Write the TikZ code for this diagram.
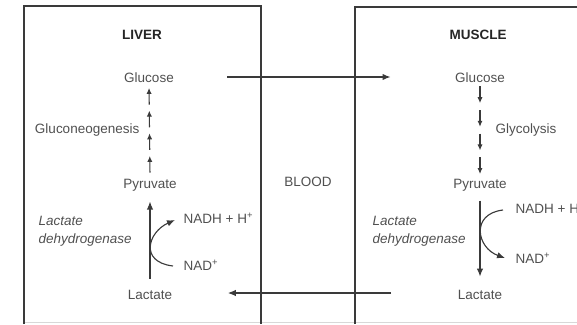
\documentclass[tikz,border=0pt]{standalone}
\usepackage{fontspec}
\setmainfont{Liberation Sans}
\usepackage{tikz}
\usetikzlibrary{arrows.meta,positioning,calc}
\definecolor{ink}{HTML}{505050}
\definecolor{frame}{HTML}{3A3A3A}
\definecolor{rulegray}{HTML}{D8D8D8}

\begin{document}
\begin{tikzpicture}[x=0.025cm,y=0.025cm,
  lbl/.style={text=ink,inner sep=1pt,font=\fontsize{9.6}{12.8}\selectfont},
  hdr/.style={text=black!85,inner sep=1pt,font=\fontsize{9.6}{12.8}\selectfont\bfseries},
  enz/.style={lbl,align=left,anchor=west,font=\fontsize{9.6}{12.8}\selectfont\itshape},
  arr/.style={-{Latex[length=2mm,width=1.6mm]},frame,line width=0.8pt},
  sarr/.style={-{Latex[length=1.5mm,width=1.3mm]},frame,line width=0.8pt}]
\useasboundingbox (0,0) rectangle (577,324);
\draw[rulegray,line width=0.8pt] (23,1.5) -- (577,1.5);
\draw[frame,line width=0.8pt] (24,0) -- (24,318) -- (261,318) -- (261,0);
\draw[frame,line width=0.8pt] (355,0) -- (355,317) -- (590,317);
\node[hdr] (liver) at (142,289) {LIVER};
\node[hdr] (muscle) at (478,289) {MUSCLE};
\node[lbl] (blood) at (308,142) {BLOOD};
\node[lbl] (lglu) at (149,246) {Glucose};
\node[lbl] (lpyr) at (150,139) {Pyruvate};
\node[lbl] (llac) at (150,29) {Lactate};
\node[lbl,anchor=east] (lgng) at (141,194) {Gluconeogenesis};
\node[enz] (lldh) at (37,93) {Lactate\\dehydrogenase};
\node[lbl,anchor=west] (lnadh) at (182,106) {NADH + H\textsuperscript{+}};
\node[lbl,anchor=west] (lnad) at (182,59) {NAD\textsuperscript{+}};
\node[lbl] (mglu) at (480,246) {Glucose};
\node[lbl] (mpyr) at (480,139) {Pyruvate};
\node[lbl] (mlac) at (480,29) {Lactate};
\node[lbl,anchor=west] (glyc) at (494,194) {Glycolysis};
\node[enz] (mldh) at (371,93) {Lactate\\dehydrogenase};
\node[lbl,anchor=west] (mnadh) at (514,116) {NADH + H\textsuperscript{+}};
\node[lbl,anchor=west] (mnad) at (514,66) {NAD\textsuperscript{+}};
\foreach \k in {0,1,2,3}{
  \draw[sarr] ($(lpyr.north)!{0.05+0.245*\k}!(lglu.south)$) -- ($(lpyr.north)!{0.23+0.245*\k}!(lglu.south)$);
  \draw[sarr] ($(mglu.south)!{0.02+0.255*\k}!(mpyr.north)$) -- ($(mglu.south)!{0.2+0.255*\k}!(mpyr.north)$);}
\draw[arr,shorten <=0.25cm,shorten >=0.22cm] (llac) -- (lpyr);
\draw[arr,shorten <=0.2cm,shorten >=0.3cm] (mpyr) -- (mlac);
\draw[arr] ($(lnad.west)+(-9,-1)$) .. controls +(-34,4) and +(-27,-12) .. ($(lnadh.west)+(-7,-2)$);
\draw[arr] ($(mnadh.west)+(-11,-2)$) .. controls +(-33,-4) and +(-28,10) .. ($(mnad.west)+(-9,0)$);
\draw[arr] ($(lglu.east)+(52,1)$) -- ($(mglu.west)+(-63,1)$);
\draw[arr] ($(mlac.west)+(-65,2)$) -- ($(llac.east)+(54,2)$);
\end{tikzpicture}
\end{document}
